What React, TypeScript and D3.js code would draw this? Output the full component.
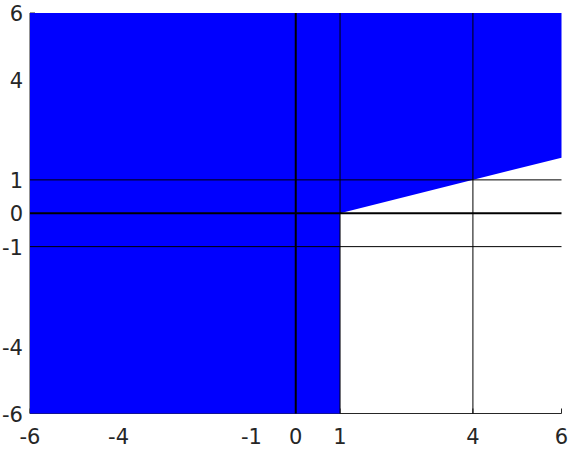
import React from 'react';
import * as d3 from 'd3';

// feasible region boundary (x, y), traced clockwise
const regionX = [-6, 1, 1, 6, 6, -6];
const regionY = [-6, -6, 0, 5 / 3, 6, 6];

const xTicks = [-6, -4, -1, 0, 1, 4, 6];
const yTicks = [-6, -4, -1, 0, 1, 4, 6];

// reference lines
const vLines = [0, 1, 4];
const hLines = [1, 0, -1];
const thickAt = 0;

const W = 570;
const H = 450;
const margin = { top: 13, right: 8.5, bottom: 36.5, left: 30 };

const App = () => {
  const x = d3.scaleLinear().domain([-6, 6]).range([margin.left, W - margin.right]);
  const y = d3.scaleLinear().domain([-6, 6]).range([H - margin.bottom, margin.top]);

  const pts: [number, number][] = regionX.map((v, i) => [x(v), y(regionY[i])]);
  const area = d3.line()(pts) + 'Z';

  const axisColor = '#262626';
  const font = 'DejaVu Sans, sans-serif';

  return (
    <svg width={W} height={H} style={{ position: 'absolute', left: 0, top: 0 }}>
      {/* axes (sit under the fill) */}
      <g stroke={axisColor} strokeWidth={1} fill="none">
        <line x1={x(-6)} x2={x(6)} y1={y(-6)} y2={y(-6)} />
        <line x1={x(-6)} x2={x(-6)} y1={y(-6)} y2={y(6)} />
        {xTicks.map(t => (
          <line key={'xt' + t} x1={x(t)} x2={x(t)} y1={y(-6)} y2={y(-6) - 5} />
        ))}
        {yTicks.map(t => (
          <line key={'yt' + t} x1={x(-6)} x2={x(-6) + 5} y1={y(t)} y2={y(t)} />
        ))}
      </g>

      <path d={area} fill="#0000ff" stroke="none" />

      {vLines.map(v => (
        <line key={'v' + v} x1={x(v)} x2={x(v)} y1={y(-6)} y2={y(6)}
          stroke="#000" strokeWidth={v === thickAt ? 2 : 1} />
      ))}
      {hLines.map(v => (
        <line key={'h' + v} x1={x(-6)} x2={x(6)} y1={y(v)} y2={y(v)}
          stroke="#000" strokeWidth={v === thickAt ? 2 : 1} />
      ))}

      <g fill={axisColor} fontFamily={font} fontSize={21}>
        {xTicks.map(t => (
          <text key={'xl' + t} x={x(t)} y={y(-6) + 23} textAnchor="middle" dominantBaseline="central">
            {t}
          </text>
        ))}
        {yTicks.map(t => (
          <text key={'yl' + t} x={x(-6) - 7} y={y(t) + 1} textAnchor="end" dominantBaseline="central">
            {t}
          </text>
        ))}
      </g>
    </svg>
  );
};

export default App;
